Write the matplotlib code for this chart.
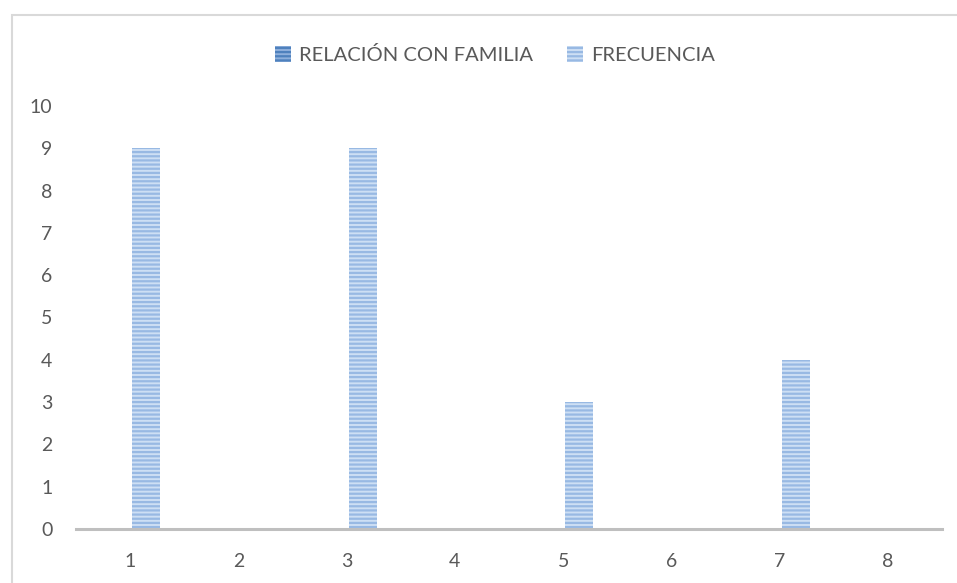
import numpy as np
import matplotlib.pyplot as plt
from matplotlib.patches import Rectangle

categories = ["1", "2", "3", "4", "5", "6", "7", "8"]
relacion = [0, 0, 0, 0, 0, 0, 0, 0]
frecuencia = [9, 0, 9, 0, 3, 0, 4, 0]

plt.rcParams["font.family"] = ["Lato", "DejaVu Sans"]
plt.rcParams["hatch.linewidth"] = 1.6

W, H = 957, 583
fig = plt.figure(figsize=(W / 100, H / 100), dpi=100)
# light chart-area border (right and bottom edges fall outside the picture)
fig.patches.append(Rectangle((11.5 / W, -1), 2, (H - 15) / H + 1, transform=fig.transFigure,
                             fill=False, edgecolor="#d9d9d9", linewidth=1.5))

ax = fig.add_axes([76 / W, 54 / H, (942 - 76) / W, (529 - 106) / H])
x = np.arange(len(categories))
width = 0.26

ax.bar(x - width / 2 - 0.02, relacion, width, label="RELACIÓN CON FAMILIA",
       facecolor="#8fb0dc", edgecolor="#4f81bd", hatch="----", linewidth=0)
ax.bar(x + width / 2 + 0.02, frecuencia, width, label="FRECUENCIA",
       facecolor="#cddff4", edgecolor="#98b9e3", hatch="----", linewidth=0)

ax.set_xlim(-0.5, len(categories) - 0.5)
ax.set_ylim(0, 10)
ax.set_yticks(range(0, 11))
ax.set_xticks(x)
ax.set_xticklabels(categories)

for s in ["top", "right", "left"]:
    ax.spines[s].set_visible(False)
ax.spines["bottom"].set_color("#bfbfbf")
ax.spines["bottom"].set_linewidth(2.2)
ax.tick_params(axis="both", length=0, labelsize=14, colors="#595959")
ax.tick_params(axis="y", pad=17)
ax.tick_params(axis="x", pad=17)

fig.legend(loc="center", bbox_to_anchor=(495 / W, 1 - 55 / H), ncol=2, frameon=False,
           fontsize=14.5, handlelength=0.8, handleheight=0.8, handletextpad=0.4,
           columnspacing=1.7, labelcolor="#595959")

fig.savefig("out.png", dpi=100)
